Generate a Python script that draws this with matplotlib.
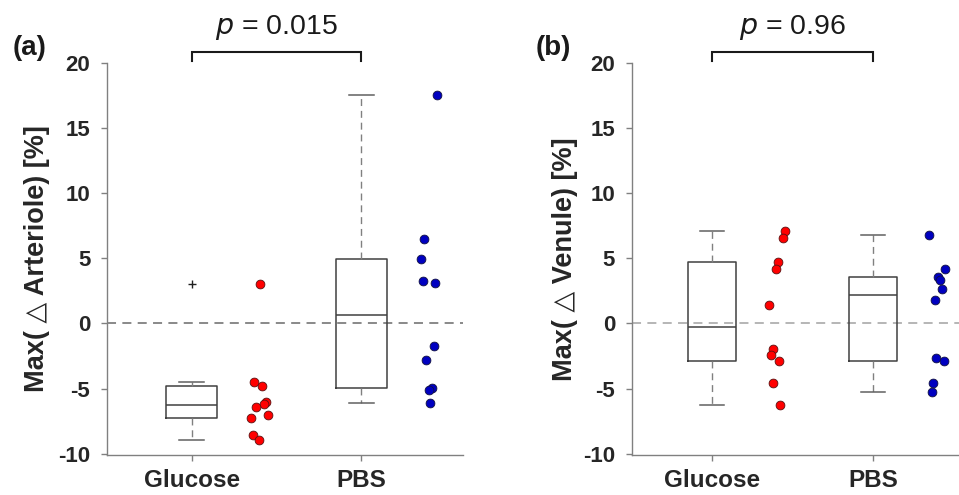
import matplotlib.pyplot as plt
import numpy as np

plt.rcParams['font.family'] = ['Liberation Sans', 'DejaVu Sans']
plt.rcParams['axes.unicode_minus'] = False

groups = ["Glucose", "PBS"]

# arteriole (a)
art_glucose = [3.0, -4.5, -4.84, -6.02, -6.15, -6.43, -7.0, -7.23, -8.57, -8.93]
art_glucose_x = [1.403, 1.370, 1.415, 1.437, 1.424, 1.381, 1.447, 1.348, 1.360, 1.396]
art_pbs = [17.53, 6.45, 4.92, 3.24, 3.09, -1.72, -2.83, -4.99, -5.1, -6.07]
art_pbs_x = [2.449, 2.372, 2.353, 2.364, 2.437, 2.427, 2.384, 2.419, 2.397, 2.408]

# venule (b)
ven_glucose = [7.08, 6.55, 4.71, 4.2, 1.43, -1.99, -2.43, -2.9, -4.59, -6.28]
ven_glucose_x = [1.453, 1.441, 1.410, 1.398, 1.356, 1.379, 1.366, 1.416, 1.381, 1.424]
ven_pbs = [6.78, 4.15, 3.57, 3.34, 2.62, 1.81, -2.63, -2.9, -4.59, -5.28]
ven_pbs_x = [2.350, 2.447, 2.404, 2.418, 2.429, 2.383, 2.392, 2.440, 2.371, 2.363]

p_values = ["0.015", "0.96"]
panel_tags = ["(a)", "(b)"]
ylabels = ["Max( \u25b3 Arteriole) [%]", "Max( \u25b3 Venule) [%]"]


def box_stats(vals):
    # MATLAB style quartiles (hazen), whiskers at 1.5 IQR
    v = np.sort(np.array(vals))
    q1, med, q3 = np.percentile(v, [25, 50, 75], method='hazen')
    iqr = q3 - q1
    hi = v[v <= q3 + 1.5 * iqr].max()
    lo = v[v >= q1 - 1.5 * iqr].min()
    fl = v[(v > hi) | (v < lo)]
    return dict(q1=q1, med=med, q3=q3, whislo=lo, whishi=hi, fliers=fl)


fig = plt.figure(figsize=(9.59, 4.95), dpi=100)
ax1 = fig.add_axes([107 / 959, 40 / 495, 356 / 959, 392 / 495])
ax2 = fig.add_axes([631.7 / 959, 40 / 495, 338 / 959, 392 / 495])

panels = [
    (ax1, art_glucose, art_glucose_x, art_pbs, art_pbs_x, '#808080'),
    (ax2, ven_glucose, ven_glucose_x, ven_pbs, ven_pbs_x, '#b0b0b0'),
]

for i, (ax, g, gx, p, px, zc) in enumerate(panels):
    ax.axhline(0, color=zc, lw=1.3, ls=(0, (5, 3.5)), zorder=1)
    stats = [box_stats(g), box_stats(p)]
    ax.bxp(stats, positions=[1, 2], widths=0.3, capwidths=0.15,
           boxprops=dict(color='#404040', lw=1.1),
           whiskerprops=dict(color='#808080', lw=1.0, ls=(0, (5, 3.5))),
           capprops=dict(color='#606060', lw=1.1),
           medianprops=dict(color='#404040', lw=1.1),
           flierprops=dict(marker='+', markeredgecolor='#202020', markersize=6, markeredgewidth=1.0),
           manage_ticks=False, zorder=2)
    ax.scatter(gx, g, s=40, color='#ff0000', edgecolors='#5a1010', linewidths=0.6, zorder=3)
    ax.scatter(px, p, s=40, color='#0000c0', edgecolors='#101040', linewidths=0.6, zorder=3)

    ax.set_xlim(0.5, 2.6)
    ax.set_ylim(-10.1, 20)
    ax.set_yticks([-10, -5, 0, 5, 10, 15, 20])
    ax.set_xticks([1, 2])
    ax.set_xticklabels(groups)
    for s in ['top', 'right']:
        ax.spines[s].set_visible(False)
    for s in ['left', 'bottom']:
        ax.spines[s].set_color('#808080')
        ax.spines[s].set_linewidth(1.0)
    ax.tick_params(axis='y', direction='out', length=4, width=1, color='#808080',
                   pad=8, labelsize=16, labelcolor='#262626')
    ax.tick_params(axis='x', direction='out', length=4, width=1, color='#808080',
                   pad=6, labelsize=17.5, labelcolor='#262626')
    for lab in ax.get_xticklabels() + ax.get_yticklabels():
        lab.set_fontweight('bold')
    ax.set_ylabel(ylabels[i], fontsize=19.5, fontweight='bold', color='#262626')
    ax.yaxis.set_label_coords(-0.16, 0.5)

    # significance bracket
    ax.plot([1, 1, 2, 2], [20.16, 20.85, 20.85, 20.16], color='#1a1a1a', lw=1.5,
            clip_on=False, solid_joinstyle='miter')
    ax.text(1.5, 22.75, r'$\it{p}$ = ' + p_values[i], ha='center', va='center',
            fontsize=20.5, color='#1a1a1a', clip_on=False)

fig.text(30 / 959, 1 - 48 / 495, panel_tags[0], ha='center', va='center',
         fontsize=20, fontweight='bold', color='#1a1a1a')
fig.text(553 / 959, 1 - 48 / 495, panel_tags[1], ha='center', va='center',
         fontsize=20, fontweight='bold', color='#1a1a1a')

fig.savefig('out.png', dpi=100)
